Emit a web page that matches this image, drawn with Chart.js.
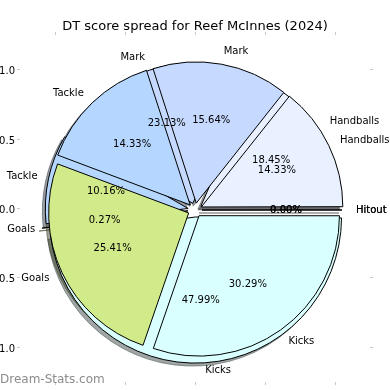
<!DOCTYPE html>
<html>
<head>
<meta charset="utf-8">
<script src="https://cdn.jsdelivr.net/npm/chart.js@4"></script>
<style>
    body { margin: 0; background: #fff; }
    #stage { position: relative; width: 390px; height: 390px; overflow: hidden; }
    #stage canvas { position: absolute; left: 0; top: 0; }
</style>
</head>
<body>
<div id="stage">
    <canvas id="axesChart" width="390" height="390"></canvas>
    <canvas id="backShadow" width="390" height="390"></canvas>
    <canvas id="frontShadow" width="390" height="390"></canvas>
    <canvas id="backPie" width="390" height="390"></canvas>
    <canvas id="frontPie" width="390" height="390"></canvas>
</div>
<script>
// Datos
const chartTitle = 'DT score spread for Reef McInnes (2024)';
const categories = ['Hitout', 'Handballs', 'Mark', 'Tackle', 'Goals', 'Kicks'];
const backSeries = [0.00, 18.45, 23.13, 10.16, 0.27, 47.99];   // torta dibujada primero (abajo)
const frontSeries = [0.00, 14.33, 15.64, 14.33, 25.41, 30.29];  // torta dibujada encima
const axisTicks = [-1.0, -0.5, 0.0, 0.5, 1.0];

// Colores por categoría (mismo orden que categories)
const sliceColors = ['#f2f2f2', '#e9f0ff', '#c6d9ff', '#b4d6ff', '#d1ea8a', '#d9ffff'];

const FONT = 'DejaVu Sans';
const EXPLODE = 7;       // px que se separa cada porción del centro
const RADIUS = 140;      // radio de la torta (1 unidad de los ejes)

// Chart.js dibuja en sentido horario, matplotlib al revés: invierto el orden
const rev = arr => arr.slice().reverse();

// color de la sombra: 30% del color y alfa 0.5
function shadowOf(hex) {
    const n = parseInt(hex.slice(1), 16);
    const r = Math.round(((n >> 16) & 255) * 0.3);
    const g = Math.round(((n >> 8) & 255) * 0.3);
    const b = Math.round((n & 255) * 0.3);
    return `rgba(${r},${g},${b},0.5)`;
}

// Las porciones de 0% no las dibuja Chart.js: trazo la línea del borde
const zeroWedgePlugin = {
    id: 'zeroWedge',
    afterDatasetsDraw(chart) {
        const ctx = chart.ctx;
        chart.getDatasetMeta(0).data.forEach(arc => {
            if (arc.circumference !== 0) return;
            const shift = arc.options.offset / 4;
            const a = arc.startAngle;
            ctx.save();
            ctx.strokeStyle = arc.options.borderColor;
            ctx.lineWidth = arc.options.borderWidth;
            ctx.beginPath();
            ctx.moveTo(arc.x + Math.cos(a) * shift, arc.y + Math.sin(a) * shift);
            ctx.lineTo(arc.x + Math.cos(a) * (shift + arc.outerRadius), arc.y + Math.sin(a) * (shift + arc.outerRadius));
            ctx.stroke();
            ctx.restore();
        });
    }
};

function pieChart(id, values, colors, borders, padding, plugins) {
    return new Chart(document.getElementById(id), {
        type: 'pie',
        data: {
            labels: rev(categories),
            datasets: [{
                data: rev(values),
                backgroundColor: rev(colors),
                borderColor: rev(borders),
                borderWidth: 1,
                borderJoinStyle: 'miter',
                offset: EXPLODE * 4,
                radius: RADIUS,
                clip: false
            }]
        },
        options: {
            responsive: false,
            animation: false,
            events: [],
            rotation: 90,
            layout: { padding: padding },
            plugins: {
                legend: { display: false },
                tooltip: { enabled: false }
            }
        },
        plugins: [zeroWedgePlugin].concat(plugins || [])
    });
}

// Ejes de fondo con las marcas, el título y la marca de agua
new Chart(document.getElementById('axesChart'), {
    type: 'scatter',
    data: { datasets: [{ data: [] }] },
    options: {
        responsive: false,
        animation: false,
        events: [],
        layout: { padding: { top: 34, left: 0, right: 0, bottom: 0 } },
        plugins: {
            legend: { display: false },
            tooltip: { enabled: false }
        },
        scales: Object.fromEntries([
            ['x', 'bottom', true], ['x2', 'top', false], ['y', 'left', true], ['y2', 'right', false]
        ].map(([id, position, showLabels]) => [id, {
            type: 'linear',
            position: position,
            min: -1.25,
            max: 1.25,
            afterBuildTicks: s => { s.ticks = axisTicks.map(v => ({ value: v })); },
            afterFit: s => {
                if (position === 'bottom') s.height = 5;
                if (position === 'top') s.height = 1;
                if (position === 'left' || position === 'right') s.width = 20;
            },
            border: { display: false },
            grid: { drawOnChartArea: false, drawTicks: true, tickLength: 3, color: '#c8c8c8' },
            ticks: {
                autoSkip: false,
                maxRotation: 0,
                padding: 2,
                labelOffset: id === 'y' ? 2 : 0,
                color: showLabels ? '#000' : 'rgba(0,0,0,0)',
                font: { family: FONT, size: 10 },
                callback: v => Number(v).toFixed(1)
            }
        }]))
    },
    plugins: [{
        id: 'titleAndWatermark',
        afterDraw(chart) {
            const ctx = chart.ctx;
            ctx.save();
            ctx.font = `13px "${FONT}"`;
            ctx.fillStyle = '#000';
            ctx.textAlign = 'center';
            ctx.textBaseline = 'alphabetic';
            ctx.fillText(chartTitle, 195, 30);
            ctx.font = `12px "${FONT}"`;
            ctx.fillStyle = '#8c8c8c';
            ctx.textAlign = 'left';
            ctx.textBaseline = 'middle';
            ctx.fillText('Dream-Stats.com', 0, 380);
            ctx.restore();
        }
    }]
});

// Sombras (debajo de todas las porciones)
const shadowColors = sliceColors.map(shadowOf);
const shadowPad = { top: 36, right: 6, left: 0, bottom: 0 };
pieChart('backShadow', backSeries, shadowColors, shadowColors, shadowPad);
pieChart('frontShadow', frontSeries, shadowColors, shadowColors, shadowPad);

// Tortas
const piePad = { top: 30, right: 0, left: 0, bottom: 0 };
const borders = sliceColors.map(() => '#000');
const backChart = pieChart('backPie', backSeries, sliceColors, borders, piePad);

// Etiquetas de ambas tortas, encima de todo
const labelPlugin = {
    id: 'pieLabels',
    afterDraw(chart) {
        const ctx = chart.ctx;
        ctx.save();
        ctx.font = `10px "${FONT}"`;
        ctx.fillStyle = '#000';
        ctx.textBaseline = 'middle';
        [backChart, chart].forEach(c => {
            const values = c.data.datasets[0].data;
            const total = values.reduce((a, b) => a + b, 0);
            c.getDatasetMeta(0).data.forEach((arc, i) => {
                const mid = (arc.startAngle + arc.endAngle) / 2;
                const shift = arc.options.offset / 4;
                const r = arc.outerRadius;
                const lx = arc.x + Math.cos(mid) * (shift + 1.1 * r);
                const ly = arc.y + Math.sin(mid) * (shift + 1.1 * r);
                ctx.textAlign = lx > arc.x ? 'left' : 'right';
                ctx.fillText(c.data.labels[i], lx, ly);
                const px = arc.x + Math.cos(mid) * (shift + 0.6 * r);
                const py = arc.y + Math.sin(mid) * (shift + 0.6 * r);
                ctx.textAlign = 'center';
                ctx.fillText((values[i] / total * 100).toFixed(2) + '%', px, py);
            });
        });
        ctx.restore();
    }
};
pieChart('frontPie', frontSeries, sliceColors, borders, piePad, [labelPlugin]);
</script>
</body>
</html>
